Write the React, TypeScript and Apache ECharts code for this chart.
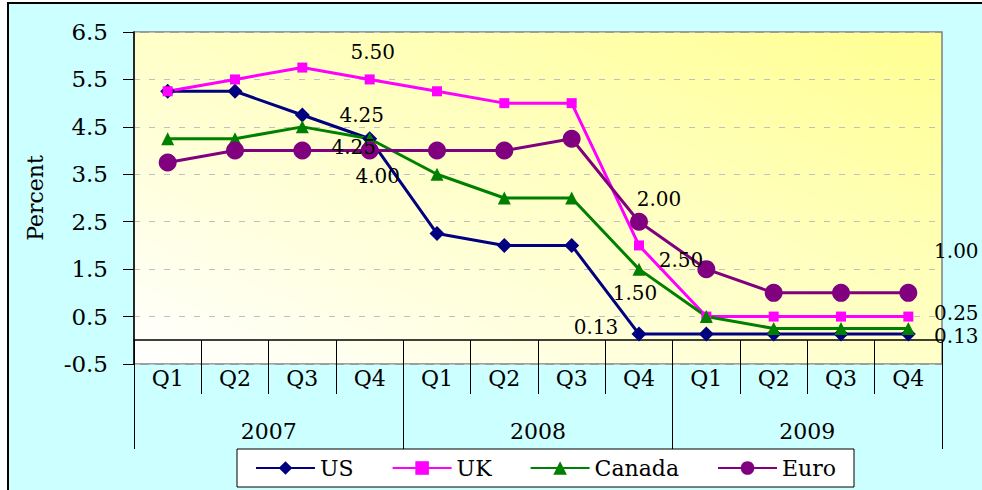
import React, { useEffect, useRef } from "react";
import * as echarts from "echarts";

const quarters = ["Q1", "Q2", "Q3", "Q4", "Q1", "Q2", "Q3", "Q4", "Q1", "Q2", "Q3", "Q4"];
const years = ["2007", "2008", "2009"];
const seriesNames = ["US", "UK", "Canada", "Euro"];
const usRates = [5.25, 5.25, 4.75, 4.25, 2.25, 2.0, 2.0, 0.13, 0.13, 0.13, 0.13, 0.13];
const ukRates = [5.25, 5.5, 5.75, 5.5, 5.25, 5.0, 5.0, 2.0, 0.5, 0.5, 0.5, 0.5];
const canadaRates = [4.25, 4.25, 4.5, 4.25, 3.5, 3.0, 3.0, 1.5, 0.5, 0.25, 0.25, 0.25];
const euroRates = [3.75, 4.0, 4.0, 4.0, 4.0, 4.0, 4.25, 2.5, 1.5, 1.0, 1.0, 1.0];
const yMin = -0.5;
const yMax = 6.5;
const yStep = 1;

// which points carry a value label, and where the label sits relative to its point
const labelSpots: { series: string; index: number; dx: number; dy: number }[] = [
  { series: "UK", index: 3, dx: 3, dy: -27 },
  { series: "US", index: 3, dx: -8, dy: -24 },
  { series: "Canada", index: 3, dx: -16, dy: 8 },
  { series: "Euro", index: 3, dx: 8, dy: 25 },
  { series: "UK", index: 7, dx: 20, dy: -46 },
  { series: "Euro", index: 7, dx: 42, dy: 38 },
  { series: "Canada", index: 7, dx: -4, dy: 24 },
  { series: "US", index: 7, dx: -43, dy: -7 },
  { series: "Euro", index: 11, dx: 48, dy: -42 },
  { series: "Canada", index: 11, dx: 48, dy: -15 },
  { series: "US", index: 11, dx: 48, dy: 2 },
];

const FONT = "DejaVu Serif";

export default function App() {
  const ref = useRef<HTMLDivElement>(null);

  useEffect(() => {
    if (!ref.current) return;
    const chart = echarts.init(ref.current, undefined, { renderer: "svg" });

    const styles: Record<string, { color: string; symbol: string; size: number }> = {
      US: { color: "#000080", symbol: "diamond", size: 15 },
      UK: { color: "#ff00ff", symbol: "rect", size: 10 },
      Canada: { color: "#008000", symbol: "triangle", size: 13 },
      Euro: { color: "#800080", symbol: "circle", size: 18 },
    };
    const values: Record<string, number[]> = {
      US: usRates,
      UK: ukRates,
      Canada: canadaRates,
      Euro: euroRates,
    };

    const series = seriesNames.map((name) => {
      const st = styles[name];
      const data = values[name].map((v, i) => {
        const spot = labelSpots.find((s) => s.series === name && s.index === i);
        if (!spot) return { value: v };
        return {
          value: v,
          label: {
            show: true,
            position: "inside",
            offset: [spot.dx, spot.dy],
            formatter: (p: any) => Number(p.value).toFixed(2),
            color: "#000",
            fontSize: 20,
            fontFamily: FONT,
            textBorderWidth: 0,
          },
        };
      });
      return {
        name,
        type: "line",
        xAxisIndex: 0,
        yAxisIndex: 0,
        data,
        symbol: st.symbol,
        symbolSize: st.size,
        showAllSymbol: true,
        lineStyle: { color: st.color, width: 3 },
        itemStyle: { color: st.color },
        emphasis: { disabled: true },
      };
    });

    chart.setOption({
      animation: false,
      textStyle: { fontFamily: FONT, color: "#000" },
      graphic: [
        {
          type: "rect",
          z: -10,
          silent: true,
          shape: { x: 8, y: 3, width: 1000, height: 500 },
          style: { fill: "#ccffff", stroke: "#000", lineWidth: 2 },
        },
      ],
      grid: {
        left: 134,
        right: 40,
        top: 32,
        bottom: 126,
        show: true,
        borderColor: "#808080",
        borderWidth: 1.5,
        backgroundColor: new echarts.graphic.LinearGradient(0, 1, 1, 0, [
          { offset: 0, color: "#ffffff" },
          { offset: 1, color: "#ffff90" },
        ]),
      },
      legend: {
        data: seriesNames,
        left: 237,
        top: 449,
        orient: "horizontal",
        backgroundColor: "#ffffff",
        borderColor: "#000",
        borderWidth: 1,
        borderRadius: 0,
        padding: [8, 18, 8, 18],
        itemGap: 38,
        itemWidth: 59,
        itemHeight: 17,
        textStyle: { fontFamily: FONT, fontSize: 22, color: "#000" },
      },
      xAxis: [
        {
          type: "category",
          data: quarters,
          position: "bottom",
          boundaryGap: true,
          offset: -24,
          axisLine: { onZero: false, lineStyle: { color: "#000", width: 1.5 } },
          axisTick: { show: true, length: 54, lineStyle: { color: "#000", width: 1 } },
          axisLabel: { margin: 27, fontSize: 22, fontFamily: FONT, color: "#000", interval: 0 },
          splitLine: { show: false },
        },
        {
          type: "category",
          data: years,
          position: "bottom",
          boundaryGap: true,
          offset: -24,
          axisLine: { show: false, onZero: false },
          axisTick: { show: true, length: 109, lineStyle: { color: "#000", width: 1 } },
          axisLabel: { margin: 80, fontSize: 22, fontFamily: FONT, color: "#000", interval: 0 },
          splitLine: { show: false },
        },
      ],
      yAxis: {
        type: "value",
        min: yMin,
        max: yMax,
        interval: yStep,
        name: "Percent",
        nameLocation: "middle",
        nameGap: 88,
        nameTextStyle: { fontSize: 22, fontFamily: FONT, color: "#000" },
        axisLine: { show: true, lineStyle: { color: "#000", width: 1.5 } },
        axisTick: { show: true, length: 11, lineStyle: { color: "#000" } },
        axisLabel: {
          margin: 26,
          fontSize: 23,
          fontFamily: FONT,
          color: "#000",
          formatter: (v: number) => v.toFixed(1),
        },
        splitLine: { show: true, lineStyle: { color: "#c0c0c0", type: [6, 9], width: 1 } },
      },
      series,
    });

    return () => chart.dispose();
  }, []);

  return (
    <div
      ref={ref}
      style={{ position: "absolute", left: 0, top: 0, width: 982, height: 490 }}
    />
  );
}
